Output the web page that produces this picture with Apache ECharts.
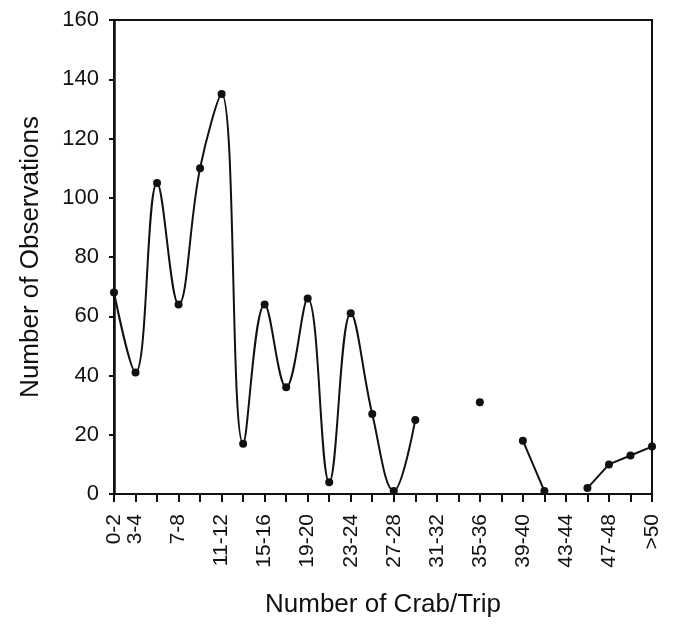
<!DOCTYPE html>
<html>
<head>
<meta charset="UTF-8">
<title>Crab per trip</title>
<script src="https://cdn.jsdelivr.net/npm/echarts@6/dist/echarts.min.js"></script>
<style>
  html, body { margin: 0; padding: 0; background: #fff; }
  #chart { width: 673px; height: 624px; }
</style>
</head>
<body>
<div id="chart"></div>
<script>
// crab per trip classes
const categories = ['0-2', '3-4', '5-6', '7-8', '9-10', '11-12', '13-14', '15-16', '17-18',
  '19-20', '21-22', '23-24', '25-26', '27-28', '29-30', '31-32', '33-34', '35-36', '37-38',
  '39-40', '41-42', '43-44', '45-46', '47-48', '49-50', '>50'];
// classes that get a tick label
const labelled = ['0-2', '3-4', '7-8', '11-12', '15-16', '19-20', '23-24', '27-28', '31-32',
  '35-36', '39-40', '43-44', '47-48', '>50'];
// smoothed part (0-2 .. 29-30)
const smoothCounts = [68, 41, 105, 64, 110, 135, 17, 64, 36, 66, 4, 61, 27, 1, 25,
  null, null, null, null, null, null, null, null, null, null, null];
// straight part of the tail
const tailCounts = [null, null, null, null, null, null, null, null, null, null, null, null, null,
  null, null, null, null, 31, null, 18, 1, null, 2, 10, 13, 16];
const yTicks = [0, 20, 40, 60, 80, 100, 120, 140, 160];

const font = 'Liberation Sans, Arial, sans-serif';
const ink = '#111';

const chart = echarts.init(document.getElementById('chart'));
chart.setOption({
  backgroundColor: '#fff',
  animation: false,
  grid: {
    left: 114, right: 21, top: 20, bottom: 130,
    show: true, borderColor: ink, borderWidth: 2
  },
  xAxis: {
    type: 'category',
    data: categories,
    boundaryGap: false,
    name: 'Number of Crab/Trip',
    nameLocation: 'middle',
    nameGap: 98,
    nameTextStyle: { fontFamily: font, fontSize: 26, color: ink },
    axisLine: { lineStyle: { color: ink, width: 2 } },
    axisTick: { show: true, interval: 0, length: 8, lineStyle: { color: ink, width: 2 } },
    axisLabel: {
      interval: (i, v) => labelled.indexOf(v) >= 0,
      rotate: 90,
      margin: 20,
      fontFamily: font,
      fontSize: 21,
      color: ink
    },
    splitLine: { show: false }
  },
  yAxis: {
    type: 'value',
    min: yTicks[0],
    max: yTicks[yTicks.length - 1],
    interval: 20,
    name: 'Number of Observations',
    nameLocation: 'middle',
    nameGap: 70,
    nameTextStyle: { fontFamily: font, fontSize: 26, color: ink },
    axisLine: { show: true, lineStyle: { color: ink, width: 2.5 } },
    axisTick: { show: true, length: 5, lineStyle: { color: ink, width: 2 } },
    axisLabel: { margin: 15, fontFamily: font, fontSize: 22, color: ink },
    splitLine: { show: false }
  },
  series: [
    {
      type: 'line',
      data: smoothCounts,
      smooth: 0.4,
      showAllSymbol: true,
      symbol: 'circle',
      symbolSize: 8,
      lineStyle: { color: ink, width: 2 },
      itemStyle: { color: ink }
    },
    {
      type: 'line',
      data: tailCounts,
      connectNulls: false,
      showAllSymbol: true,
      symbol: 'circle',
      symbolSize: 8,
      lineStyle: { color: ink, width: 2 },
      itemStyle: { color: ink }
    }
  ]
});
</script>
</body>
</html>
